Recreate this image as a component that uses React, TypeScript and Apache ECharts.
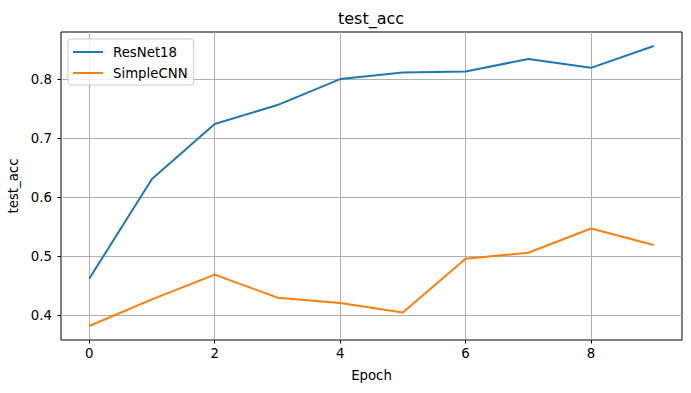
import React, { useEffect, useRef } from "react";
import * as echarts from "echarts";

const epochs = [0, 1, 2, 3, 4, 5, 6, 7, 8, 9];
const resnet18 = [0.462, 0.631, 0.724, 0.756, 0.800, 0.811, 0.813, 0.834, 0.819, 0.856];
const simpleCNN = [0.382, 0.427, 0.469, 0.430, 0.421, 0.405, 0.496, 0.506, 0.547, 0.519];
const xTicks = [0, 2, 4, 6, 8];
const yTicks = [0.4, 0.5, 0.6, 0.7, 0.8];

const FONT = "DejaVu Sans";

export default function App() {
  const ref = useRef<HTMLDivElement>(null);
  useEffect(() => {
    if (!ref.current) return;
    const chart = echarts.init(ref.current, undefined, { renderer: "svg" });
    const tickStyle = { fontFamily: FONT, fontSize: 13.3, color: "#000" };
    chart.setOption({
      animation: false,
      backgroundColor: "#fff",
      title: {
        text: "test_acc",
        left: 338,
        top: 10,
        padding: 0,
        textStyle: { fontFamily: FONT, fontSize: 16, fontWeight: "normal", color: "#000" },
      },
      legend: {
        orient: "vertical",
        left: 68,
        top: 39,
        padding: [5, 6, 4, 5],
        itemWidth: 30,
        itemHeight: 2,
        itemGap: 5,
        icon: "rect",
        borderColor: "#cccccc",
        borderWidth: 1,
        borderRadius: 3,
        backgroundColor: "rgba(255,255,255,0.8)",
        textStyle: { fontFamily: FONT, fontSize: 13.3, color: "#000", lineHeight: 16, padding: [0, 0, 0, 5] },
        data: ["ResNet18", "SimpleCNN"],
      },
      grid: {
        left: 61,
        right: 9,
        top: 32,
        bottom: 53,
        show: true,
        borderColor: "#000",
        borderWidth: 1,
        backgroundColor: "transparent",
        containLabel: false,
        outerBoundsMode: "none",
      },
      xAxis: {
        type: "value",
        min: -0.45,
        max: 9.45,
        name: "Epoch",
        nameLocation: "middle",
        nameGap: 29,
        nameTextStyle: tickStyle,
        axisLine: { show: false, onZero: false },
        axisTick: { show: true, length: 3.5, lineStyle: { color: "#000" }, customValues: xTicks },
        axisLabel: { ...tickStyle, margin: 7, customValues: xTicks },
        splitLine: { show: true, lineStyle: { color: "#b0b0b0", width: 1 } },
      },
      yAxis: {
        type: "value",
        min: 0.3583,
        max: 0.8797,
        name: "test_acc",
        nameLocation: "middle",
        nameGap: 40,
        nameTextStyle: tickStyle,
        axisLine: { show: false, onZero: false },
        axisTick: { show: true, length: 3.5, lineStyle: { color: "#000" }, customValues: yTicks },
        axisLabel: { ...tickStyle, margin: 9, customValues: yTicks, formatter: (v: number) => v.toFixed(1) },
        splitLine: { show: true, lineStyle: { color: "#b0b0b0", width: 1 } },
      },
      series: [
        {
          name: "ResNet18",
          type: "line",
          data: epochs.map((e, i) => [e, resnet18[i]]),
          showSymbol: false,
          symbol: "none",
          color: "#1f77b4",
          lineStyle: { width: 2, color: "#1f77b4" },
        },
        {
          name: "SimpleCNN",
          type: "line",
          data: epochs.map((e, i) => [e, simpleCNN[i]]),
          showSymbol: false,
          symbol: "none",
          color: "#ff7f0e",
          lineStyle: { width: 2, color: "#ff7f0e" },
        },
      ],
    });
    return () => chart.dispose();
  }, []);
  return (
    <div
      ref={ref}
      style={{ position: "fixed", left: 0, top: 0, width: 691, height: 393, background: "#fff" }}
    />
  );
}
